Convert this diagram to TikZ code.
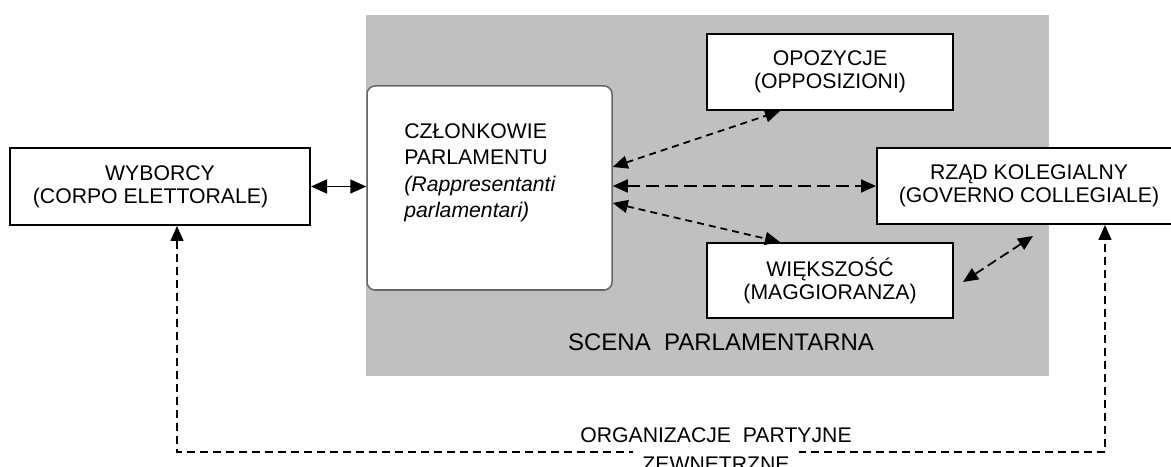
\documentclass[tikz,border=0pt]{standalone}
\usepackage{fontspec}
\setmainfont{Liberation Sans}
\usetikzlibrary{arrows.meta,calc}
\definecolor{scenegray}{RGB}{192,192,192}

\begin{document}
\begin{tikzpicture}[x=0.5pt,y=0.5pt,
    box/.style={draw,line width=1pt,fill=white,align=center,inner sep=0pt,
      font=\fontsize{10.6}{11.5}\selectfont},
    link/.style={line width=0.9pt,
      {Triangle[length=7.5pt,width=6.5pt]}-{Triangle[length=7.5pt,width=6.5pt]}},
    shortdash/.style={dash pattern=on 3.5pt off 2.5pt},
    longdash/.style={dash pattern=on 6.5pt off 3pt},
    lbl/.style={inner sep=0pt,font=\fontsize{10.6}{11.5}\selectfont}]
    \useasboundingbox (0,0) rectangle (1171,466);
    % parliamentary scene
    \fill[scenegray] (366,90) rectangle (1049,451);
    \node[font=\fontsize{12}{14}\selectfont,inner sep=0pt] (scena) at (721,124) {SCENA\ \ PARLAMENTARNA};

    \node[box,minimum width=150pt,minimum height=38.5pt] (wyb) at (160,279.5)
      {WYBORCY\\(CORPO ELETTORALE)\kern9.5pt};
    \node[draw=black!60,line width=0.75pt,fill=white,rounded corners=4pt,
      minimum width=122.5pt,minimum height=102pt] (czl) at (489.5,278) {};
    \node[lbl,anchor=north west,align=left,font=\fontsize{10.6}{13.25}\selectfont] (czltext) at (404,343)
      {CZŁONKOWIE\\PARLAMENTU\\\textit{(Rappresentanti}\\\textit{parlamentari)}};
    \node[box,minimum width=123pt,minimum height=38pt] (opo) at (830,394)
      {OPOZYCJE\\(OPPOSIZIONI)};
    \node[box,minimum width=152pt,minimum height=38pt] (rzad) at (1029,280)
      {RZĄD KOLEGIALNY\\(GOVERNO COLLEGIALE)};
    \node[box,minimum width=123pt,minimum height=37.5pt] (wie) at (830,185.5)
      {WIĘKSZOŚĆ\\(MAGGIORANZA)};

    % links
    \draw[line width=0.9pt,{Triangle[length=8pt,width=7pt]}-{Triangle[length=8pt,width=7pt]}]
      (wyb.east) -- (wyb.east -| czl.west);
    \draw[link,shortdash] ($(czl.east)+(0,21)$) -- ($(opo.south west)+(74,0)$);
    \draw[link,longdash] (czl.east |- rzad.west) -- (rzad.west);
    \draw[link,shortdash] ($(czl.east)+(0,-15)$) -- ($(wie.north west)+(74,0)$);
    \draw[link,dash pattern=on 5pt off 2.5pt] ($(wie.east)+(9,-1.5)$) -- ($(rzad.south)+(4,-11)$);

    % external party organisations
    \coordinate (party) at (716,14);
    \draw[line width=0.75pt,dash pattern=on 4pt off 2.5pt,
      {Triangle[length=7.5pt,width=6.5pt]}-{Triangle[length=7.5pt,width=6.5pt]}]
      ($(wyb.south)+(17,0)$) |- (party) -| ($(rzad.south)+(76,0)$);
    \node[lbl,fill=white,inner xsep=4.5pt,inner ysep=3.5pt] (zew) at (716,1.5) {ZEWNETRZNE};
    \node[lbl] (org) at (716,30.5) {ORGANIZACJE\ \ PARTYJNE};
\end{tikzpicture}
\end{document}
